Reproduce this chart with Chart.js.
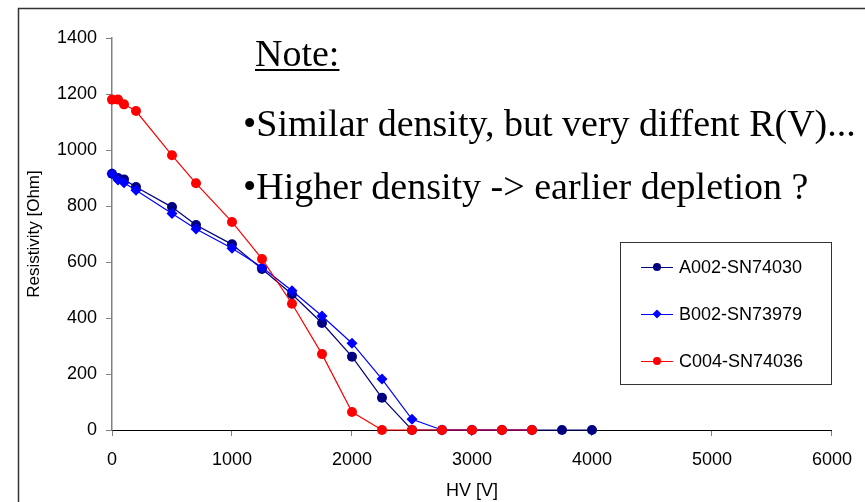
<!DOCTYPE html>
<html>
<head>
<meta charset="utf-8">
<script src="https://cdn.jsdelivr.net/npm/chart.js@4.4.0/dist/chart.umd.min.js"></script>
<style>
  html, body { margin: 0; padding: 0; background: #fff; }
  canvas { display: block; }
</style>
</head>
<body>
<canvas id="graficoHV" width="865" height="502"></canvas>
<script>
// HV scan points [V]
const hv = [0, 50, 100, 200, 500, 700, 1000, 1250, 1500, 1750, 2000, 2250, 2500, 2750, 3000, 3250, 3500, 3750, 4000];

// resistivity [Ohm] per sensor
const resA002 = [915, 900, 895, 868, 796, 732, 663, 575, 485, 382, 262, 115, 0, 0, 0, 0, 0, 0, 0];
const resB002 = [915, 893, 883, 856, 773, 718, 649, 581, 497, 407, 310, 182, 38, 0, 0, 0, 0];
const resC004 = [1180, 1180, 1163, 1139, 981, 881, 743, 611, 451, 271, 64, 0, 0, 0, 0, 0, 0];

const nomes = ['A002-SN74030', 'B002-SN73979', 'C004-SN74036'];

const xTicks = [0, 1000, 2000, 3000, 4000, 5000, 6000];
const yTicks = [0, 200, 400, 600, 800, 1000, 1200, 1400];

const notaTitulo = 'Note:';
const notaLinhas = [
  '\u2022Similar density, but very diffent R(V)...',
  '\u2022Higher density -> earlier depletion ?'
];

function pontos(valores) {
  return valores.map((v, i) => ({ x: hv[i], y: v }));
}

Chart.defaults.font.family = "'Liberation Sans', Arial, sans-serif";
Chart.defaults.font.size = 18;
Chart.defaults.color = '#000';

// moldura + nota em texto
const extras = {
  id: 'extras',
  beforeDraw(chart) {
    const ctx = chart.ctx;
    ctx.save();
    ctx.fillStyle = '#fff';
    ctx.fillRect(0, 0, chart.width, chart.height);
    ctx.strokeStyle = '#333';
    ctx.lineWidth = 1.5;
    ctx.beginPath();
    ctx.moveTo(18.5, chart.height);
    ctx.lineTo(18.5, 8.5);
    ctx.lineTo(chart.width, 8.5);
    ctx.stroke();
    ctx.restore();
  },
  afterDraw(chart) {
    const ctx = chart.ctx;
    ctx.save();
    ctx.fillStyle = '#000';
    ctx.font = "38px 'Liberation Serif', 'Times New Roman', serif";
    ctx.textBaseline = 'alphabetic';
    ctx.fillText(notaTitulo, 255, 66);
    const w = ctx.measureText(notaTitulo).width;
    ctx.fillRect(255, 69, w, 2);
    ctx.fillText(notaLinhas[0], 243, 136);
    ctx.fillText(notaLinhas[1], 243, 199);

    // legenda
    const bx = 620, by = 242, bw = 211, bh = 142;
    ctx.fillStyle = '#fff';
    ctx.fillRect(bx, by, bw, bh);
    ctx.strokeStyle = '#333';
    ctx.lineWidth = 1;
    ctx.strokeRect(bx + 0.5, by + 0.5, bw, bh);
    const linhasY = [267, 314, 361];
    chart.data.datasets.forEach((ds, i) => {
      const y = linhasY[i];
      ctx.strokeStyle = ds.borderColor;
      ctx.lineWidth = 1;
      ctx.beginPath();
      ctx.moveTo(641, y + 0.5);
      ctx.lineTo(673, y + 0.5);
      ctx.stroke();
      ctx.fillStyle = ds.backgroundColor;
      ctx.beginPath();
      if (ds.pointStyle === 'rectRot') {
        ctx.moveTo(657, y - 4.5);
        ctx.lineTo(661.5, y);
        ctx.lineTo(657, y + 4.5);
        ctx.lineTo(652.5, y);
        ctx.closePath();
      } else {
        ctx.arc(657, y, 4, 0, Math.PI * 2);
      }
      ctx.fill();
      ctx.fillStyle = '#000';
      ctx.font = "18px 'Liberation Sans', Arial, sans-serif";
      ctx.textBaseline = 'middle';
      ctx.fillText(ds.label, 679, y + 1);
    });
    ctx.restore();
  }
};

new Chart(document.getElementById('graficoHV'), {
  type: 'scatter',
  data: {
    datasets: [
      {
        label: nomes[0],
        data: pontos(resA002),
        borderColor: '#000080',
        backgroundColor: '#000080',
        pointStyle: 'circle',
        pointRadius: 5,
        order: 2
      },
      {
        label: nomes[1],
        data: pontos(resB002),
        borderColor: '#0000ff',
        backgroundColor: '#0000ff',
        pointStyle: 'rectRot',
        pointRadius: 5.5,
        order: 1
      },
      {
        label: nomes[2],
        data: pontos(resC004),
        borderColor: '#ff0000',
        backgroundColor: '#ff0000',
        pointStyle: 'circle',
        pointRadius: 5,
        order: 0
      }
    ]
  },
  options: {
    responsive: false,
    devicePixelRatio: 1,
    animation: false,
    showLine: true,
    clip: false,
    elements: {
      line: { borderWidth: 1.2, tension: 0 },
      point: { borderWidth: 0, hoverRadius: 5 }
    },
    layout: { padding: { left: 18, right: 32, top: 38, bottom: 0 } },
    plugins: {
      legend: { display: false },
      tooltip: { enabled: false }
    },
    scales: {
      x: {
        type: 'linear',
        min: 0,
        max: 6000,
        afterBuildTicks: s => { s.ticks = xTicks.map(v => ({ value: v })); },
        afterFit: s => { s.height = 72; },
        grid: { drawOnChartArea: false, tickLength: 6, color: '#808080' },
        border: { color: '#000', width: 1 },
        ticks: { padding: 13, maxRotation: 0, callback: v => String(v) },
        title: { display: true, text: 'HV [V]', padding: 0 }
      },
      y: {
        type: 'linear',
        min: 0,
        max: 1400,
        afterBuildTicks: s => { s.ticks = yTicks.map(v => ({ value: v })); },
        afterFit: s => { s.width = 94; },
        grid: { drawOnChartArea: false, tickLength: 6, color: '#808080' },
        border: { color: '#808080', width: 1.5 },
        ticks: { padding: 9, callback: v => String(v) },
        title: { display: true, text: 'Resistivity [Ohm]', font: { size: 17 }, padding: { top: 6, bottom: 0 } }
      }
    }
  },
  plugins: [extras]
});
</script>
</body>
</html>
